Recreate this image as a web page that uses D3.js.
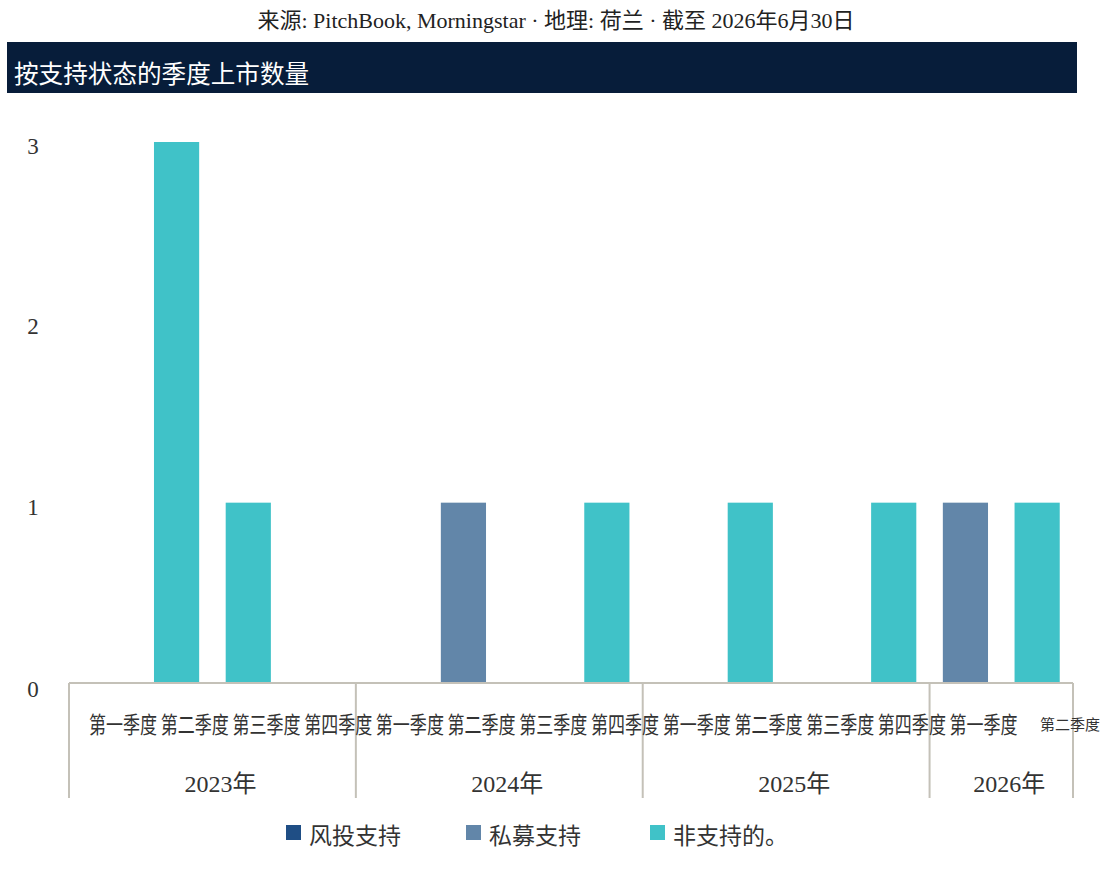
<!DOCTYPE html>
<html>
<head>
<meta charset="utf-8">
<script src="https://cdn.jsdelivr.net/npm/d3@7"></script>
<style>
  html, body { margin: 0; padding: 0; background: #ffffff; }
  svg { display: block; }
  text { font-family: "Liberation Serif", "Noto Sans CJK SC", serif; }
</style>
</head>
<body>
<svg id="chart" width="1109" height="893"></svg>
<script>
// ---- data ----
const years = ["2023年", "2024年", "2025年", "2026年"];
const quarterNames = ["第一季度", "第二季度", "第三季度", "第四季度"];
const periodYear = [0,0,0,0, 1,1,1,1, 2,2,2,2, 3,3];
const periodQuarter = [0,1,2,3, 0,1,2,3, 0,1,2,3, 0,1];
const seriesNames = ["风投支持", "私募支持", "非支持的。"];
const vcBacked =  [0,0,0,0, 0,0,0,0, 0,0,0,0, 0,0];
const peBacked =  [0,0,0,0, 0,1,0,0, 0,0,0,0, 1,0];
const nonBacked = [0,3,1,0, 0,0,0,1, 0,1,0,1, 0,1];
const yTicks = [0, 1, 2, 3];
const colors = ["#1f4e85", "#6286a9", "#40c2c8"];
const subtitle = "来源: PitchBook, Morningstar · 地理: 荷兰 · 截至 2026年6月30日";
const title = "按支持状态的季度上市数量";

// ---- layout ----
const svg = d3.select("#chart");
const left = 69, right = 1073, baseY = 683, topY = 142;

const rows = periodYear.map((y, i) => ({
  key: i, year: years[y], quarter: quarterNames[periodQuarter[i]],
  vc: vcBacked[i], pe: peBacked[i], non: nonBacked[i]
}));

const x = d3.scaleBand().domain(rows.map(d => d.key)).range([left, right]).padding(0);
const y = d3.scaleLinear().domain([0, 3]).range([baseY, topY]);
const color = d3.scaleOrdinal().domain(["vc", "pe", "non"]).range(colors);

// subtitle
svg.append("text").attr("x", 556).attr("y", 28).attr("text-anchor", "middle")
  .attr("font-size", 22).attr("fill", "#222").text(subtitle);

// title bar
svg.append("rect").attr("x", 7).attr("y", 42).attr("width", 1070).attr("height", 51).attr("fill", "#071d3a");
svg.append("text").attr("x", 14).attr("y", 83).attr("font-size", 24.6).attr("fill", "#ffffff").text(title);

// y labels
svg.append("g").selectAll("text").data(yTicks).join("text")
  .attr("x", 33).attr("y", d => y(d) + (d === 0 ? 6 : 4)).attr("dy", "0.35em")
  .attr("text-anchor", "middle").attr("font-size", 23).attr("fill", "#333")
  .text(d => d);

// bars
const stack = d3.stack().keys(["vc", "pe", "non"]);
const stacked = stack(rows);
const bw = x.bandwidth();
svg.append("g").selectAll("g").data(stacked).join("g")
  .attr("fill", s => color(s.key))
  .selectAll("rect").data(s => s.filter(d => d[1] - d[0] > 0)).join("rect")
  .attr("x", d => x(d.data.key) + bw * 0.185)
  .attr("width", bw * 0.63)
  .attr("y", d => y(d[1]))
  .attr("height", d => y(d[0]) - y(d[1]));

// axis line
const axisColor = "#c4c1b8";
svg.append("line").attr("x1", left).attr("x2", right).attr("y1", baseY).attr("y2", baseY)
  .attr("stroke", axisColor).attr("stroke-width", 2);

// year separators
const yearBounds = years.map((yr, yi) => {
  const keys = rows.filter(r => r.year === yr).map(r => r.key);
  return { yr, x0: x(keys[0]), x1: x(keys[keys.length - 1]) + bw };
});
const sepX = [yearBounds[0].x0].concat(yearBounds.map(b => b.x1));
svg.append("g").selectAll("line").data(sepX).join("line")
  .attr("x1", d => d).attr("x2", d => d).attr("y1", baseY).attr("y2", 798)
  .attr("stroke", axisColor).attr("stroke-width", 2);

// quarter labels (horizontally condensed to fit each band)
const last = rows.length - 1;
svg.append("g").selectAll("text").data(rows).join("text")
  .attr("transform", (d, i) => i === last
    ? "translate(1040,730) scale(1,1)"
    : `translate(${x(d.key) + 20},733) scale(0.74,1)`)
  .attr("font-size", (d, i) => i === last ? 15 : 23)
  .attr("fill", "#333")
  .text(d => d.quarter);

// year labels
svg.append("g").selectAll("text").data(yearBounds).join("text")
  .attr("x", d => (d.x0 + d.x1) / 2 + 8).attr("y", 792)
  .attr("text-anchor", "middle").attr("font-size", 24).attr("fill", "#333")
  .text(d => d.yr);

// legend
const legendX = [286, 466, 650];
const lg = svg.append("g").selectAll("g").data(seriesNames).join("g")
  .attr("transform", (d, i) => `translate(${legendX[i]},825)`);
lg.append("rect").attr("width", 15).attr("height", 15).attr("fill", (d, i) => colors[i]);
lg.append("text").attr("x", 23).attr("y", 19).attr("font-size", 23).attr("fill", "#333").text(d => d);
</script>
</body>
</html>
